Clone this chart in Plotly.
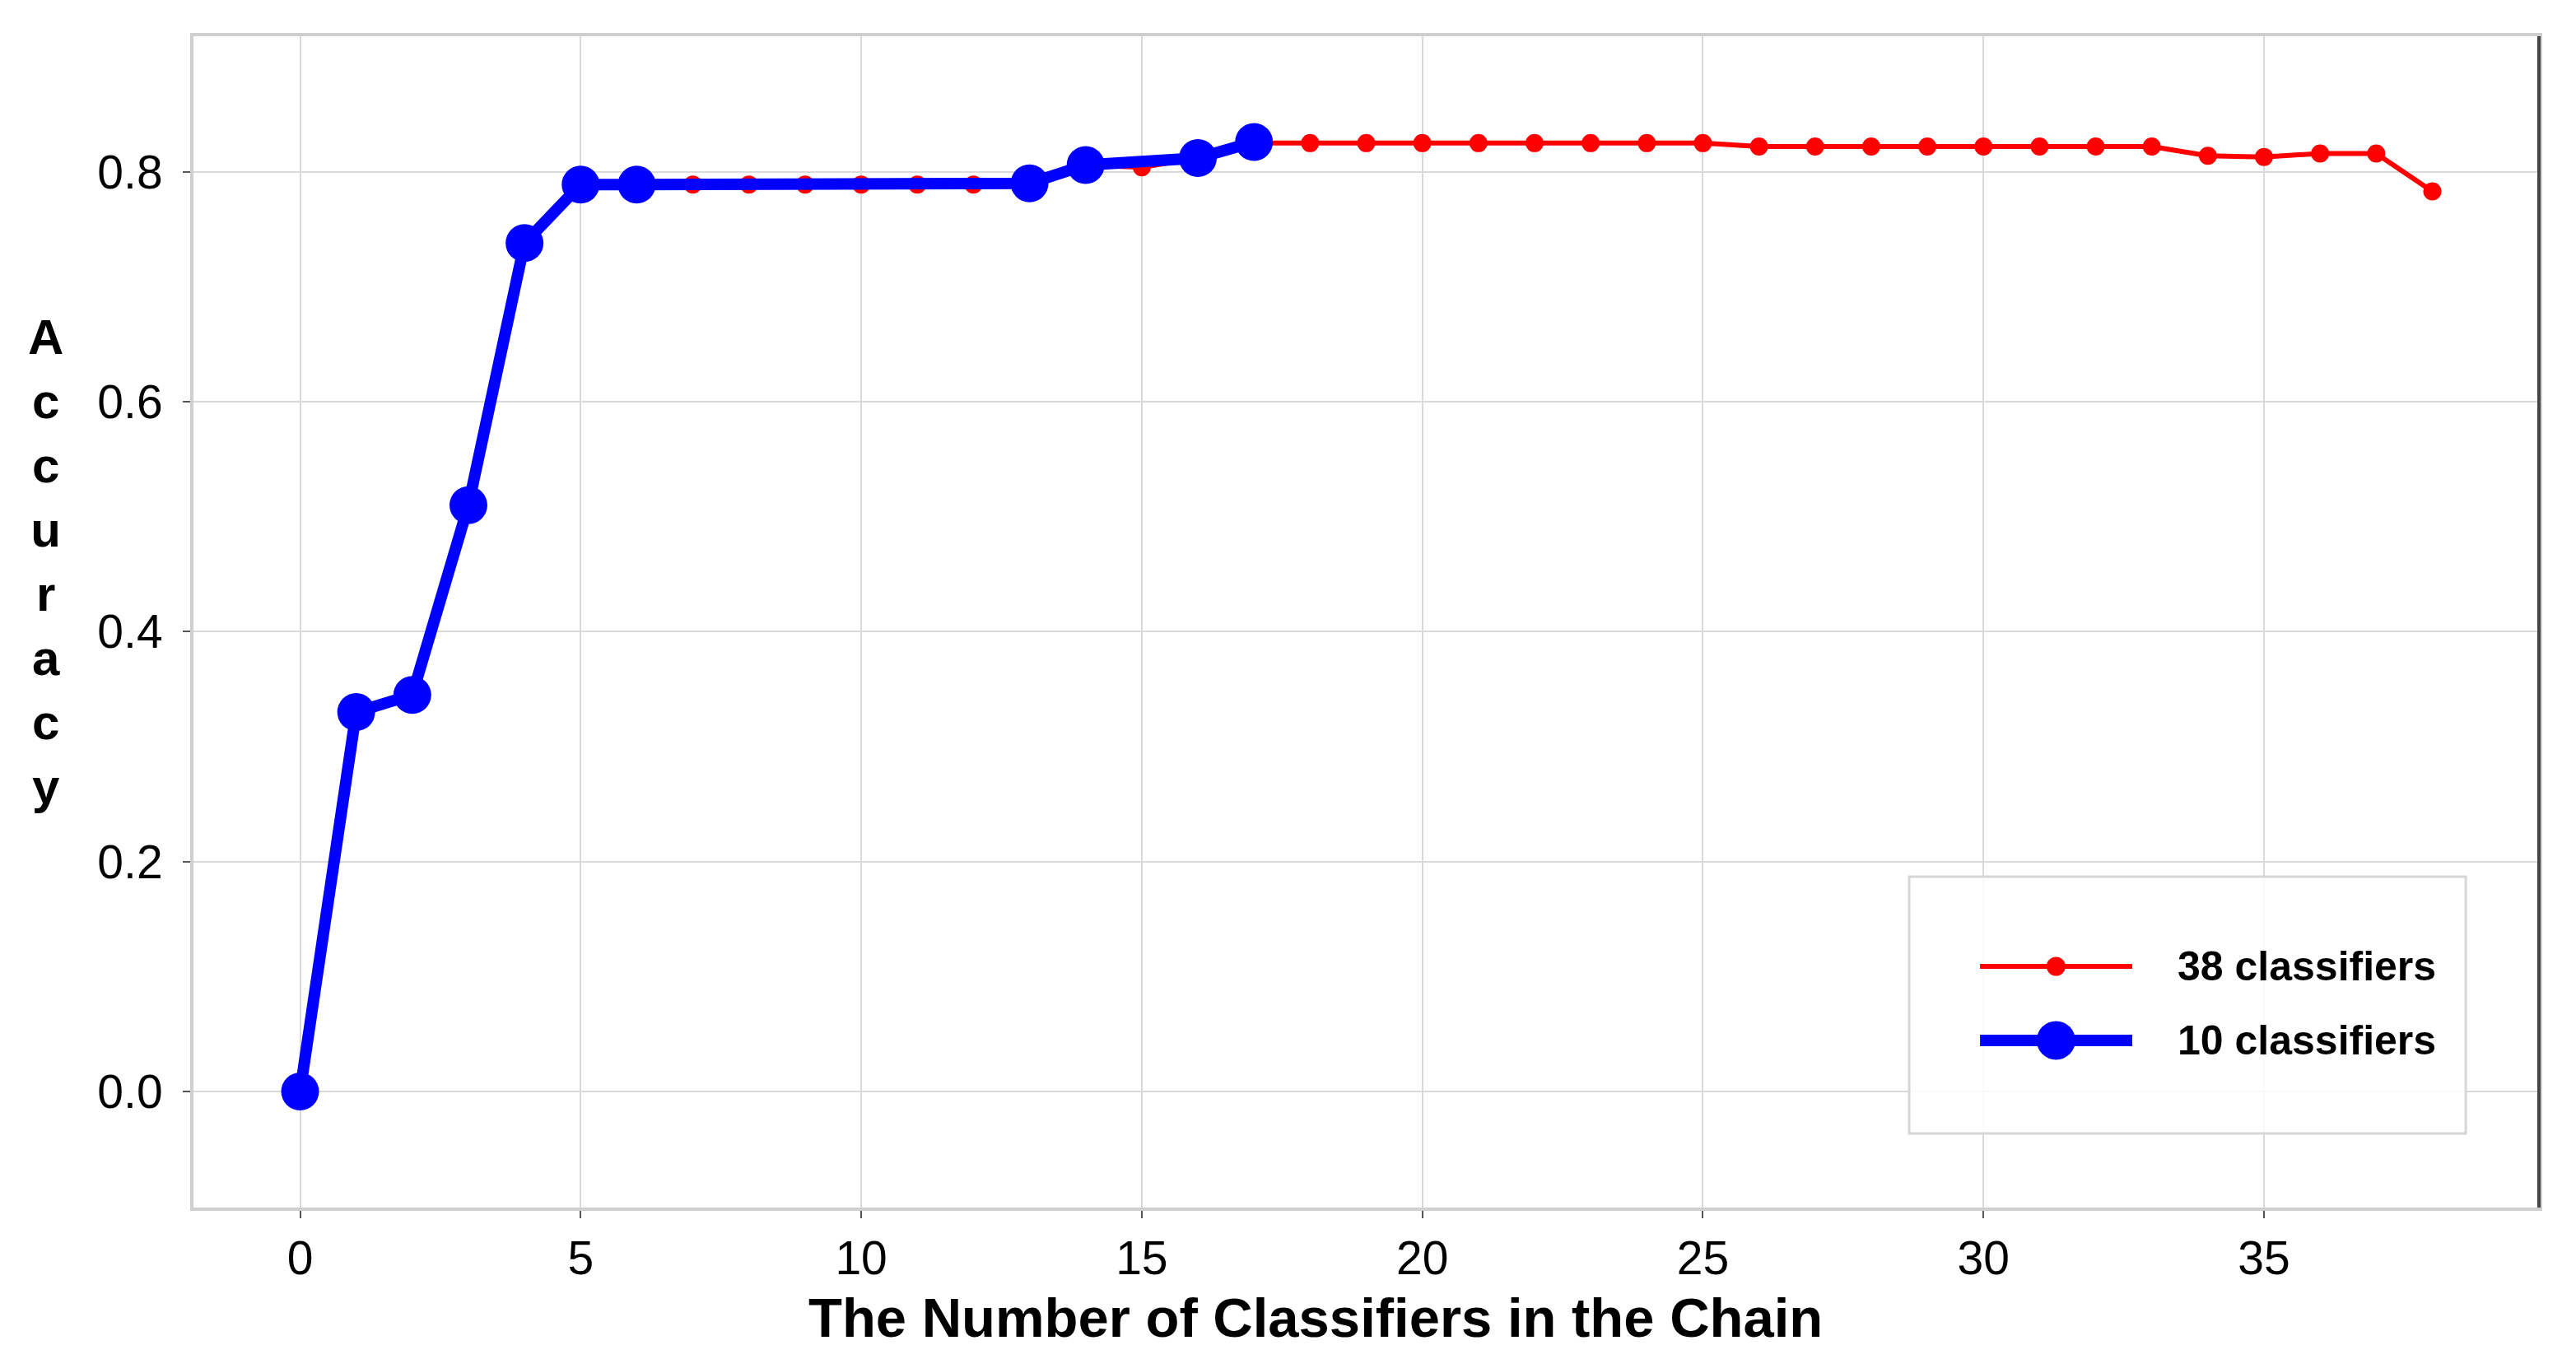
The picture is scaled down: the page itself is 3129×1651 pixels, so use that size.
import plotly.graph_objects as go

# 38-classifier chain (red)
x_38 = list(range(0, 39))
acc_38 = [0.0, 0.33, 0.345, 0.51, 0.738, 0.789, 0.789, 0.789, 0.789, 0.789,
          0.789, 0.789, 0.789, 0.79, 0.806, 0.804, 0.812, 0.825, 0.825, 0.825,
          0.825, 0.825, 0.825, 0.825, 0.825, 0.825, 0.822, 0.822, 0.822, 0.822,
          0.822, 0.822, 0.822, 0.822, 0.814, 0.813, 0.816, 0.816, 0.783]

# 10-classifier chain (blue)
x_10 = [0, 1, 2, 3, 4, 5, 6, 13, 14, 16, 17]
acc_10 = [0.0, 0.33, 0.345, 0.51, 0.738, 0.789, 0.789, 0.79, 0.806, 0.812, 0.826]

x_ticks = [0, 5, 10, 15, 20, 25, 30, 35]
y_ticks = [0.0, 0.2, 0.4, 0.6, 0.8]

FONT = "Liberation Sans, Arial, sans-serif"
RED = "#ff0000"
BLUE = "#0000ff"

fig = go.Figure()
fig.add_trace(go.Scatter(
    x=x_38, y=acc_38, mode="lines+markers", name="38 classifiers",
    line=dict(color=RED, width=6),
    marker=dict(color=RED, size=22),
    showlegend=False,
))
fig.add_trace(go.Scatter(
    x=x_10, y=acc_10, mode="lines+markers", name="10 classifiers",
    line=dict(color=BLUE, width=14),
    marker=dict(color=BLUE, size=46),
    showlegend=False,
))

axis_common = dict(
    showgrid=True, gridcolor="#d9d9d9", gridwidth=2,
    showline=True, linecolor="#cfcfcf", linewidth=4, mirror=True,
    ticks="outside", ticklen=9, tickcolor="#555555", tickwidth=2,
    zeroline=False,
    tickfont=dict(family=FONT, size=57, color="#000000"),
)

# page body keeps an 8px margin, so the figure is 8px smaller than the window
fig.update_layout(
    width=3121, height=1643,
    paper_bgcolor="white", plot_bgcolor="white",
    margin=dict(l=227, r=45, t=36, b=184),
    font=dict(family=FONT, color="#000000"),
    xaxis=dict(
        range=[-1.9, 39.9], tickvals=x_ticks,
        ticklabelstandoff=0,
        **axis_common,
    ),
    yaxis=dict(
        range=[-0.101, 0.918], tickvals=y_ticks, tickformat=".1f",
        ticklabelstandoff=13,
        **axis_common,
    ),
    showlegend=False,
)

# x title sits a little left of the plot centre in the original
fig.add_annotation(
    text="<b>The Number of Classifiers in the Chain</b>",
    xref="paper", yref="paper", x=0.4784, y=-0.0935,
    xanchor="center", yanchor="middle", showarrow=False,
    font=dict(family=FONT, size=67, color="#000000"),
)

# dark right spine
fig.add_shape(type="line", xref="paper", yref="paper",
              x0=1, x1=1, y0=0, y1=1, line=dict(color="#444444", width=4))

# vertical letter-stacked y label
fig.add_annotation(
    text="<b>A<br>c<br>c<br>u<br>r<br>a<br>c<br>y</b>",
    xref="paper", yref="paper", x=-0.063, y=0.551,
    xanchor="center", yanchor="middle", showarrow=False,
    font=dict(family=FONT, size=60, color="#000000"),
)

# legend box (drawn by hand so the sample lines can be long like the original)
fig.add_shape(type="rect", xref="paper", yref="paper",
              x0=0.7315, x1=0.9688, y0=0.0632, y1=0.2825,
              line=dict(color="#d6d6d6", width=3), fillcolor="rgba(255,255,255,0.85)")

legend_items = [
    ("38 classifiers", RED, 6, 23, 0.2059),
    ("10 classifiers", BLUE, 14, 47, 0.1427),
]
for label, color, lw, ms, ly in legend_items:
    fig.add_shape(type="line", xref="paper", yref="paper",
                  x0=0.7617, x1=0.8266, y0=ly, y1=ly,
                  line=dict(color=color, width=lw))
    fig.add_shape(type="circle", xref="paper", yref="paper",
                  xsizemode="pixel", ysizemode="pixel",
                  xanchor=0.7941, yanchor=ly,
                  x0=-ms / 2, x1=ms / 2, y0=-ms / 2, y1=ms / 2,
                  fillcolor=color, line=dict(width=0))
    fig.add_annotation(text=f"<b>{label}</b>", xref="paper", yref="paper",
                       x=0.8452, y=ly, xanchor="left", yanchor="middle",
                       showarrow=False,
                       font=dict(family=FONT, size=50, color="#000000"))

fig.write_html("out.html")
